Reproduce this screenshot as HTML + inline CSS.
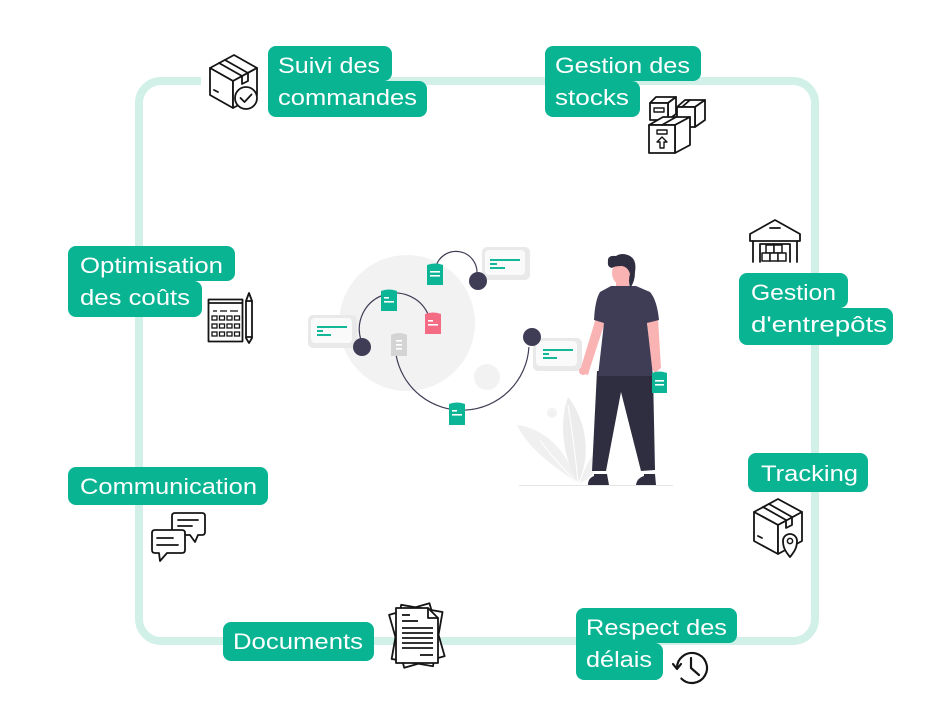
<!DOCTYPE html>
<html>
<head>
<meta charset="utf-8">
<style>
html,body{margin:0;padding:0;background:#fff;}
svg{display:block;}
.lbl{font-family:"Liberation Sans",Arial,sans-serif;font-size:22px;fill:#fff;}
.ic{fill:#fff;stroke:#151515;stroke-width:1.8;stroke-linejoin:round;stroke-linecap:round;}
.ln{fill:none;stroke:#151515;stroke-width:1.8;stroke-linecap:round;stroke-linejoin:round;}
</style>
</head>
<body>
<svg width="940" height="720" viewBox="0 0 940 720" xmlns="http://www.w3.org/2000/svg">
  <rect width="940" height="720" fill="#fff"/>
  <!-- frame -->
  <rect x="139" y="81" width="676" height="560" rx="22" fill="none" stroke="#d1f0e8" stroke-width="8"/>
  <!-- white gap behind top-left icon -->
  <rect x="201" y="74" width="67" height="15" fill="#fff"/>

  <!-- ============ central illustration ============ -->
  <circle cx="407" cy="323" r="68" fill="#f2f2f2"/>
  <circle cx="487" cy="377" r="13" fill="#f2f2f2"/>
  <circle cx="552" cy="413" r="5" fill="#f2f2f2"/>
  <!-- plant -->
  <path d="M577,483 C560,470 530,452 517,425 C542,428 566,447 577,483 Z" fill="#f0f0f0"/>
  <path d="M578,483 C564,460 558,425 568,397 C586,420 592,455 578,483 Z" fill="#ececec"/>
  <path d="M580,483 C585,465 592,455 600,448 C600,465 593,478 580,483 Z" fill="#f0f0f0"/>
  <path d="M540,440 C550,455 565,470 577,483" fill="none" stroke="#fff" stroke-width="1"/>
  <path d="M568,405 C572,430 576,460 578,483" fill="none" stroke="#fff" stroke-width="1"/>
  <line x1="519" y1="485.5" x2="673" y2="485.5" stroke="#e6e6e6" stroke-width="1"/>

  <!-- arcs -->
  <path d="M477,273 A21,21 0 0 0 436,266" fill="none" stroke="#3f3d56" stroke-width="1.2"/>
  <path d="M361,340 A36,36 0 0 1 428,314" fill="none" stroke="#3f3d56" stroke-width="1.2"/>
  <path d="M396,354.6 A67,67 0 0 0 528.9,347.1" fill="none" stroke="#3f3d56" stroke-width="1.2"/>

  <!-- cards -->
  <g>
    <rect x="308" y="315" width="49" height="33" rx="5" fill="#e9e9e9"/>
    <rect x="311" y="318" width="41" height="25" rx="4" fill="#fafafa"/>
    <rect x="317" y="326" width="30" height="2" fill="#12b898"/>
    <rect x="317" y="330" width="6" height="2" fill="#12b898"/>
    <rect x="317" y="334" width="14" height="2" fill="#12b898"/>
  </g>
  <g>
    <rect x="482" y="247" width="48" height="33" rx="5" fill="#e9e9e9"/>
    <rect x="485" y="250" width="40" height="25" rx="4" fill="#fafafa"/>
    <rect x="490" y="259" width="30" height="2" fill="#12b898"/>
    <rect x="490" y="263" width="7" height="2" fill="#12b898"/>
    <rect x="490" y="267" width="15" height="2" fill="#12b898"/>
  </g>
  <g>
    <rect x="533" y="338" width="49" height="33" rx="5" fill="#e9e9e9"/>
    <rect x="536" y="341" width="41" height="25" rx="4" fill="#fafafa"/>
    <rect x="543" y="349" width="30" height="2" fill="#12b898"/>
    <rect x="543" y="353" width="6" height="2" fill="#12b898"/>
    <rect x="543" y="357" width="14" height="2" fill="#12b898"/>
  </g>

  <!-- dots -->
  <circle cx="478" cy="281" r="9" fill="#3f3d56"/>
  <circle cx="362" cy="347" r="9" fill="#3f3d56"/>
  <circle cx="532" cy="337" r="9" fill="#3f3d56"/>

  <!-- docs -->
  <g>
    <path d="M427,265 Q435,262 443,265 L443,285 L427,285 Z" fill="#0bb596"/>
    <rect x="430" y="271" width="10" height="1.6" fill="#fff"/><rect x="430" y="275" width="10" height="1.6" fill="#fff"/>
  </g>
  <g>
    <path d="M381,291 Q389,288 397,291 L397,311 L381,311 Z" fill="#0bb596"/>
    <rect x="384" y="297" width="5" height="1.6" fill="#fff"/><rect x="384" y="301" width="10" height="1.6" fill="#fff"/>
  </g>
  <g>
    <path d="M425,314 Q433,311 441,314 L441,334 L425,334 Z" fill="#f46b84"/>
    <rect x="428" y="320" width="5" height="1.6" fill="#fff"/><rect x="428" y="324" width="10" height="1.6" fill="#fff"/>
  </g>
  <g>
    <path d="M391,335 Q399,331 407,335 L407,356 L391,356 Z" fill="#d4d4d4"/>
    <rect x="396" y="340" width="6" height="1.6" fill="#fff"/><rect x="396" y="344" width="6" height="1.6" fill="#fff"/><rect x="396" y="348" width="6" height="1.6" fill="#fff"/>
  </g>
  <g>
    <path d="M449,404 Q457,401 465,404 L465,425 L449,425 Z" fill="#0bb596"/>
    <rect x="452" y="410" width="5" height="1.6" fill="#fff"/><rect x="452" y="414" width="10" height="1.6" fill="#fff"/>
  </g>

  <!-- person -->
  <g>
    <!-- arms -->
    <path d="M596,318 L605,322 L590,368 L588,375 L580,373 L582,364 Z" fill="#f9b3b3"/>
    <circle cx="583" cy="371" r="4" fill="#f9b3b3"/>
    <path d="M647,320 L658,318 L661,368 L655,373 L651,368 Z" fill="#f9b3b3"/>
    <!-- pants -->
    <path d="M597,371 L653,373 L655,470 L641,471 L621,392 L606,471 L592,471 Z" fill="#2f2e41"/>
    <!-- shoes -->
    <path d="M594,474 L607,474 L609,485 L588,485 Q588,478 594,476 Z" fill="#2f2e41"/>
    <path d="M644,474 L655,474 L656,485 L636,485 Q637,478 644,476 Z" fill="#2f2e41"/>
    <!-- neck -->
    <rect x="616" y="280" width="13" height="11" fill="#f9b3b3"/>
    <!-- shirt -->
    <path d="M611,286 L636,286 L650,292 Q657,300 659,320 L647,323 L653,376 L598,376 L604,323 L594,320 Q595,300 600,292 Z" fill="#3f3d56"/>
    <!-- head -->
    <ellipse cx="622" cy="273" rx="10" ry="12" fill="#f9b3b3"/>
    <path d="M608,262 Q607,255 616,256 Q622,252 630,256 Q637,260 635,272 Q635,282 630,288 Q628,280 630,274 Q628,267 622,266 Q614,266 612,268 Q607,267 608,262 Z" fill="#2f2e41"/>
    <!-- doc in hand -->
    <path d="M652,373 Q659,370 667,373 L667,393 L652,393 Z" fill="#0bb596"/>
    <rect x="655" y="380" width="9" height="1.6" fill="#fff"/><rect x="655" y="384" width="9" height="1.6" fill="#fff"/>
  </g>

  <!-- ============ icons ============ -->
  <!-- 1. box with check -->
  <g>
    <polygon class="ic" points="210,68 234,55 257,68 233,81"/>
    <polygon class="ic" points="210,68 233,81 233,108 210,95"/>
    <polygon class="ic" points="233,81 257,68 257,95 233,108"/>
    <polyline class="ln" points="219,63 242,76 242,84 248,81 248,73 225,60"/>
    <line class="ln" x1="214" y1="90" x2="218" y2="92"/>
    <circle class="ic" cx="246" cy="98" r="11"/>
    <polyline class="ln" points="240.5,98 244.5,102 251.5,94.5"/>
  </g>

  <!-- 2. stocks boxes -->
  <g>
    <polygon class="ic" points="650,103 656,97 676,97 668,103"/>
    <polygon class="ic" points="668,103 676,97 676,114 668,120"/>
    <rect class="ic" x="650" y="103" width="18" height="17"/>
    <rect class="ic" x="654" y="108" width="10" height="4" style="stroke-width:1.4"/>
    <polygon class="ic" points="677,107 685,100 705,100 695,107"/>
    <polygon class="ic" points="695,107 705,100 705,120 695,127"/>
    <rect class="ic" x="677" y="107" width="18" height="20"/>
    <line class="ln" x1="690" y1="100" x2="682" y2="107"/>
    <polygon class="ic" points="649,125 663,117 690,117 675,125"/>
    <polygon class="ic" points="675,125 690,117 690,145 675,153"/>
    <rect class="ic" x="649" y="125" width="26" height="28"/>
    <line class="ln" x1="662" y1="125" x2="676" y2="117"/>
    <rect class="ic" x="657" y="130" width="10" height="4" style="stroke-width:1.4"/>
    <path class="ic" d="M662,137 L657,142 H660 V148 H664 V142 H667 Z" style="stroke-width:1.4"/>
  </g>

  <!-- 3. warehouse -->
  <g>
    <path class="ic" d="M750,241 L750,234 L775,220 L800,234 L800,241 Z"/>
    <line class="ln" x1="753" y1="241" x2="753" y2="262"/>
    <line class="ln" x1="797" y1="241" x2="797" y2="262"/>
    <path class="ln" d="M760,262 V244 H790 V262"/>
    <line class="ln" x1="770" y1="228" x2="780" y2="228"/>
    <rect class="ic" x="766" y="245" width="8" height="8" style="stroke-width:1.5"/>
    <rect class="ic" x="774" y="245" width="8" height="8" style="stroke-width:1.5"/>
    <rect class="ic" x="762" y="253" width="8" height="8" style="stroke-width:1.5"/>
    <rect class="ic" x="770" y="253" width="8" height="8" style="stroke-width:1.5"/>
    <rect class="ic" x="778" y="253" width="8" height="8" style="stroke-width:1.5"/>
  </g>

  <!-- 4. calculator + pencil -->
  <g>
    <rect class="ic" x="208.5" y="299.5" width="34" height="42"/>
    <line class="ln" x1="209" y1="303" x2="242" y2="303"/>
    <g fill="none" stroke="#151515" stroke-width="1.3">
      <line x1="213" y1="311" x2="217" y2="311"/><line x1="220" y1="311" x2="227" y2="311"/><line x1="230" y1="311" x2="238" y2="311"/>
      <rect x="212" y="316" width="5" height="4"/><rect x="219.5" y="316" width="5" height="4"/><rect x="227" y="316" width="5" height="4"/><rect x="234.5" y="316" width="5" height="4"/>
      <rect x="212" y="324" width="5" height="4"/><rect x="219.5" y="324" width="5" height="4"/><rect x="227" y="324" width="5" height="4"/><rect x="234.5" y="324" width="5" height="4"/>
      <rect x="212" y="332" width="5" height="4"/><rect x="219.5" y="332" width="5" height="4"/><rect x="227" y="332" width="5" height="4"/><rect x="234.5" y="332" width="5" height="4"/>
    </g>
    <path class="ic" d="M246,301 L249,293 L252,301 V338 L249,343 L246,338 Z"/>
    <line class="ln" x1="246" y1="301" x2="252" y2="301"/>
    <line class="ln" x1="246" y1="337" x2="252" y2="337"/>
  </g>

  <!-- 5. chat -->
  <g>
    <path class="ic" d="M175,513 H202 Q205,513 205,516 V532 Q205,535 202,535 H198 L195,542 L190,535 H175 Q172,535 172,532 V516 Q172,513 175,513 Z"/>
    <line class="ln" x1="178" y1="520" x2="198" y2="520"/>
    <line class="ln" x1="178" y1="526" x2="192" y2="526"/>
    <path class="ic" d="M155,530 H182 Q185,530 185,533 V550 Q185,553 182,553 H167 L160,561 L159,553 H155 Q152,553 152,550 V533 Q152,530 155,530 Z"/>
    <line class="ln" x1="157" y1="538" x2="173" y2="538"/>
    <line class="ln" x1="157" y1="545" x2="178" y2="545"/>
  </g>

  <!-- 6. tracking box -->
  <g>
    <polygon class="ic" points="754,512 778,499 802,512 778,525"/>
    <polygon class="ic" points="754,512 778,525 778,554 754,541"/>
    <polygon class="ic" points="778,525 802,512 802,541 778,554"/>
    <polyline class="ln" points="763,507 786,520 786,528 792,525 792,517 769,504"/>
    <line class="ln" x1="758" y1="536" x2="762" y2="538"/>
    <path class="ic" d="M790,557 C785,551 783,547 783,541 A7,7 0 1 1 797,541 C797,547 795,551 790,557 Z"/>
    <circle class="ic" cx="790" cy="541" r="2.6" style="stroke-width:1.5"/>
  </g>

  <!-- 7. documents -->
  <g>
    <rect class="ic" x="396" y="608" width="42" height="55" transform="rotate(-16 417 636)"/>
    <rect class="ic" x="396" y="608" width="42" height="55" transform="rotate(10 417 636)"/>
    <path class="ic" d="M396,608 H428 L438,618 V663 H396 Z"/>
    <path class="ln" d="M428,608 V618 H438"/>
    <g stroke="#151515" stroke-width="1.8" stroke-linecap="butt">
      <line x1="402" y1="615" x2="410" y2="615"/>
      <line x1="402" y1="621" x2="418" y2="621"/>
      <line x1="402" y1="628" x2="433" y2="628"/>
      <line x1="402" y1="633" x2="433" y2="633"/>
      <line x1="402" y1="638" x2="433" y2="638"/>
      <line x1="402" y1="643" x2="433" y2="643"/>
      <line x1="402" y1="648" x2="433" y2="648"/>
      <line x1="420" y1="655" x2="433" y2="655"/>
    </g>
  </g>

  <!-- 8. clock -->
  <g>
    <path class="ln" d="M677,668 A15,15 0 1 1 681.4,678.6" style="stroke-width:2.2"/>
    <polyline class="ln" points="673,664 677,669 681,664" style="stroke-width:2.2"/>
    <polyline class="ln" points="691,658 691,668 699,675" style="stroke-width:2.2"/>
  </g>

  <!-- ============ labels ============ -->
  <g fill="#09b493">
    <!-- 1 -->
    <rect x="268" y="46" width="124" height="35" rx="8"/>
    <rect x="268" y="81" width="159" height="36" rx="8"/>
    <rect x="268" y="73" width="116" height="16"/>
    <!-- 2 -->
    <rect x="545" y="46" width="156" height="35" rx="8"/>
    <rect x="545" y="81" width="95" height="36" rx="8"/>
    <rect x="545" y="73" width="87" height="16"/>
    <!-- 3 -->
    <rect x="68" y="246" width="167" height="35" rx="8"/>
    <rect x="68" y="281" width="134" height="36" rx="8"/>
    <rect x="68" y="273" width="126" height="16"/>
    <!-- 4 -->
    <rect x="739" y="273" width="109" height="35" rx="8"/>
    <rect x="739" y="308" width="154" height="37" rx="8"/>
    <rect x="739" y="300" width="101" height="16"/>
    <!-- 5 -->
    <rect x="68" y="467" width="200" height="38" rx="8"/>
    <!-- 6 -->
    <rect x="748" y="453" width="120" height="39" rx="8"/>
    <!-- 7 -->
    <rect x="223" y="622" width="151" height="39" rx="8"/>
    <!-- 8 -->
    <rect x="576" y="608" width="161" height="35" rx="8"/>
    <rect x="576" y="643" width="87" height="37" rx="8"/>
    <rect x="576" y="635" width="79" height="16"/>
  </g>

  <g class="lbl">
    <text x="278" y="73" textLength="102" lengthAdjust="spacingAndGlyphs">Suivi des</text>
    <text x="278" y="105" textLength="139" lengthAdjust="spacingAndGlyphs">commandes</text>
    <text x="555" y="73" textLength="135" lengthAdjust="spacingAndGlyphs">Gestion des</text>
    <text x="555" y="105" textLength="74" lengthAdjust="spacingAndGlyphs">stocks</text>
    <text x="80" y="273" textLength="143" lengthAdjust="spacingAndGlyphs">Optimisation</text>
    <text x="80" y="305" textLength="110" lengthAdjust="spacingAndGlyphs">des coûts</text>
    <text x="751" y="300" textLength="85" lengthAdjust="spacingAndGlyphs">Gestion</text>
    <text x="751" y="332" textLength="136" lengthAdjust="spacingAndGlyphs">d'entrepôts</text>
    <text x="80" y="494" textLength="177" lengthAdjust="spacingAndGlyphs">Communication</text>
    <text x="761" y="481" textLength="97" lengthAdjust="spacingAndGlyphs">Tracking</text>
    <text x="233" y="649" textLength="130" lengthAdjust="spacingAndGlyphs">Documents</text>
    <text x="586" y="635" textLength="141" lengthAdjust="spacingAndGlyphs">Respect des</text>
    <text x="586" y="667" textLength="66" lengthAdjust="spacingAndGlyphs">délais</text>
  </g>
</svg>
</body>
</html>
